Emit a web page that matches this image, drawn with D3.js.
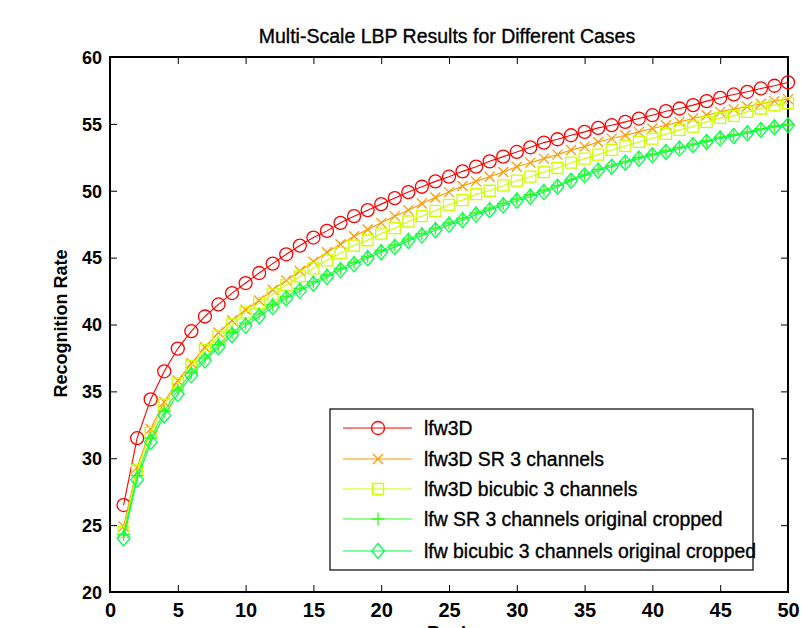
<!DOCTYPE html>
<html><head><meta charset="utf-8">
<script src="https://cdn.jsdelivr.net/npm/d3@7"></script>
<style>body{margin:0;background:#fff;}svg{display:block;}</style>
</head><body>
<svg id="chart" width="802" height="628"></svg>
<script>
const ranks = d3.range(1, 51);
const xTicks = [0,5,10,15,20,25,30,35,40,45,50];
const yTicks = [20,25,30,35,40,45,50,55,60];
const seriesNames = ["lfw3D","lfw3D SR 3 channels","lfw3D bicubic 3 channels","lfw SR 3 channels original cropped","lfw bicubic 3 channels original cropped"];
const lfw3D = [26.5,31.5,34.4,36.5,38.2,39.5,40.6,41.5,42.35,43.1,43.85,44.55,45.25,45.9,46.5,47.0,47.6,48.1,48.55,49.0,49.45,49.9,50.3,50.7,51.05,51.45,51.8,52.2,52.55,52.9,53.25,53.6,53.85,54.15,54.4,54.7,54.9,55.15,55.4,55.65,55.95,56.15,56.4,56.7,56.95,57.2,57.4,57.65,57.85,58.1];
const lfw3DSR = [24.9,29.3,32.2,34.2,35.8,37.1,38.3,39.4,40.3,41.1,41.8,42.6,43.3,44.0,44.7,45.4,46.0,46.6,47.1,47.6,48.1,48.55,49.05,49.5,49.9,50.35,50.7,51.05,51.4,51.8,52.1,52.4,52.7,53.05,53.3,53.65,53.9,54.15,54.4,54.65,54.9,55.15,55.4,55.65,55.9,56.1,56.3,56.5,56.7,56.85];
const lfw3DBicubic = [24.5,29.1,31.9,34.0,35.6,36.9,38.1,39.1,40.0,40.9,41.6,42.25,42.95,43.6,44.2,44.8,45.35,45.9,46.3,46.8,47.2,47.7,48.1,48.5,48.95,49.3,49.75,50.0,50.4,50.75,51.05,51.4,51.7,52.1,52.4,52.7,53.05,53.35,53.65,53.9,54.25,54.55,54.8,55.15,55.45,55.6,55.9,56.15,56.4,56.55];
const lfwSR = [24.3,28.7,31.5,33.5,35.1,36.4,37.5,38.5,39.4,40.1,40.8,41.5,42.1,42.7,43.2,43.7,44.2,44.65,45.1,45.55,45.95,46.4,46.8,47.2,47.6,47.95,48.35,48.7,49.05,49.4,49.7,50.05,50.4,50.85,51.25,51.6,51.9,52.2,52.5,52.75,53.0,53.25,53.5,53.75,54.0,54.2,54.4,54.65,54.85,54.95];
const lfwBicubic = [24.0,28.4,31.2,33.2,34.8,36.2,37.3,38.3,39.2,39.9,40.6,41.3,41.95,42.5,43.05,43.55,44.05,44.5,44.95,45.4,45.8,46.25,46.65,47.05,47.45,47.8,48.2,48.55,48.9,49.25,49.55,49.9,50.3,50.75,51.15,51.5,51.8,52.1,52.4,52.65,52.9,53.15,53.4,53.65,53.9,54.1,54.3,54.55,54.75,54.9];

const allValues = [lfw3D, lfw3DSR, lfw3DBicubic, lfwSR, lfwBicubic];
const colors = ["#ff0000","#ff9a00","#ccff00","#33ff1a","#00ff4d"];
const markers = ["circle","x","square","plus","diamond"];

const svg = d3.select("#chart");
const L = 110, R = 788, T = 57, B = 592;
const x = d3.scaleLinear().domain([0,50]).range([L,R]);
const y = d3.scaleLinear().domain([20,60]).range([B,T]);
const font = "'Liberation Sans', Arial, sans-serif";

function markerPath(type){
  switch(type){
    case "circle": { const r=6.5; return `M${-r},0A${r},${r} 0 1,0 ${r},0A${r},${r} 0 1,0 ${-r},0Z`; }
    case "x": { const s=5; return `M${-s},${-s}L${s},${s}M${-s},${s}L${s},${-s}`; }
    case "square": { const s=5.5; return `M${-s},${-s}H${s}V${s}H${-s}Z`; }
    case "plus": { const s=6.5; return `M${-s},0H${s}M0,${-s}V${s}`; }
    case "diamond": { const s=7.5; return `M0,${-s}L${s*0.85},0L0,${s}L${-s*0.85},0Z`; }
  }
}

const tickLen = 7;
const gx = svg.append("g").attr("transform",`translate(0,${B})`)
  .call(d3.axisBottom(x).tickValues(xTicks).tickSizeInner(-tickLen).tickSizeOuter(0).tickPadding(11));
const gxt = svg.append("g").attr("transform",`translate(0,${T})`)
  .call(d3.axisTop(x).tickValues(xTicks).tickSizeInner(-tickLen).tickSizeOuter(0).tickFormat(""));
const gy = svg.append("g").attr("transform",`translate(${L},0)`)
  .call(d3.axisLeft(y).tickValues(yTicks).tickSizeInner(-tickLen).tickSizeOuter(0).tickPadding(8));
const gyr = svg.append("g").attr("transform",`translate(${R},0)`)
  .call(d3.axisRight(y).tickValues(yTicks).tickSizeInner(-tickLen).tickSizeOuter(0).tickFormat(""));
[gx,gxt,gy,gyr].forEach(g=>{
  g.select(".domain").remove();
  g.selectAll(".tick line").attr("stroke","#000").attr("stroke-width",1);
});
gx.selectAll(".tick text").attr("font-family",font).attr("font-weight","bold").attr("font-size",20).attr("fill","#000");
gy.selectAll(".tick text").attr("font-family",font).attr("font-weight","bold").attr("font-size",18).attr("fill","#000").attr("dy","0.35em");
svg.append("rect").attr("x",L).attr("y",T).attr("width",R-L).attr("height",B-T)
  .attr("fill","none").attr("stroke","#000").attr("stroke-width",2);

const line = d3.line().x((d,i)=>x(ranks[i])).y(d=>y(d));
allValues.forEach((vals,si)=>{
  const g = svg.append("g");
  g.append("path").attr("d",line(vals)).attr("fill","none").attr("stroke",colors[si]).attr("stroke-width",1.1);
  g.selectAll("path.m").data(vals).join("path").attr("class","m")
    .attr("transform",(d,i)=>`translate(${x(ranks[i])},${y(d)})`)
    .attr("d",markerPath(markers[si]))
    .attr("fill","none").attr("stroke",colors[si]).attr("stroke-width",1.3);
});

svg.append("text").attr("x",447).attr("y",43).attr("text-anchor","middle")
  .attr("font-family",font).attr("font-size",19.5).attr("fill","#000")
  .attr("stroke","#000").attr("stroke-width",0.35)
  .text("Multi-Scale LBP Results for Different Cases");
svg.append("text").attr("transform","translate(67,323.5) rotate(-90)").attr("text-anchor","middle")
  .attr("font-family",font).attr("font-weight","bold").attr("font-size",18).attr("fill","#000")
  .text("Recognition Rate");
svg.append("text").attr("x",449).attr("y",639).attr("text-anchor","middle")
  .attr("font-family",font).attr("font-weight","bold").attr("font-size",18).attr("fill","#000")
  .text("Rank");

const lg = svg.append("g");
lg.append("rect").attr("x",330).attr("y",409).attr("width",423).attr("height",161)
  .attr("fill","#fff").attr("stroke","#000").attr("stroke-width",1.2);
const rowY = [428,459,489,519,551];
seriesNames.forEach((name,i)=>{
  lg.append("line").attr("x1",343).attr("x2",412).attr("y1",rowY[i]).attr("y2",rowY[i])
    .attr("stroke",colors[i]).attr("stroke-width",1.1);
  lg.append("path").attr("transform",`translate(378,${rowY[i]})`).attr("d",markerPath(markers[i]))
    .attr("fill","none").attr("stroke",colors[i]).attr("stroke-width",1.3);
  lg.append("text").attr("x",424).attr("y",rowY[i]+7)
    .attr("font-family",font).attr("font-size",19.4).attr("fill","#000")
    .attr("stroke","#000").attr("stroke-width",0.35).text(name);
});
</script>
</body></html>
